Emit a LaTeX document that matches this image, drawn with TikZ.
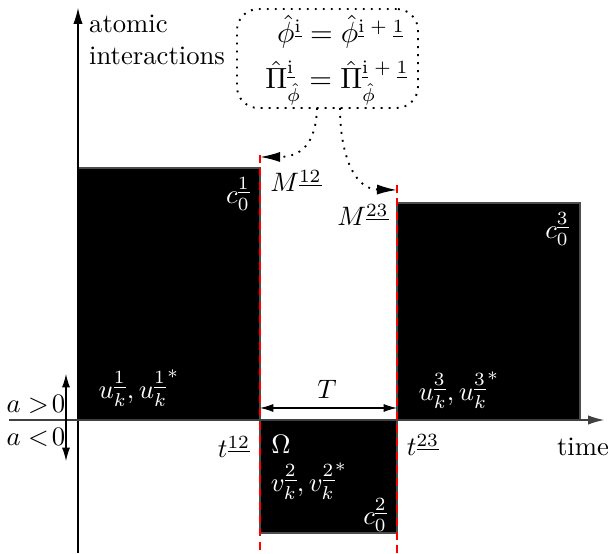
\documentclass[tikz,border=0pt]{standalone}
\usetikzlibrary{arrows.meta}
\newcommand{\ul}[1]{\underline{#1}}
\begin{document}
\begin{tikzpicture}[x=0.375pt,y=-0.375pt,
  blk/.style={fill=black,draw=black!70},
  wtxt/.style={text=white,inner sep=1pt},
  btxt/.style={inner sep=1pt},
  eqtxt/.style={inner sep=1pt,anchor=base,font=\fontsize{10.5}{12.6}\selectfont},
  reddash/.style={red,thick,dash pattern=on 3pt off 2pt},
  mydots/.style={line width=0.7pt,dash pattern=on 0.7pt off 2.3pt},
  dotarrow/.style={mydots,-{Latex[length=7.5pt,width=3.8pt]}}]
\useasboundingbox (0,0) rectangle (608,554);
% blocks
\path[blk] (78,168) rectangle (260,420);
\path[blk] (397,203) rectangle (580,420);
\path[blk] (260,420) rectangle (397,533);
% axes
\coordinate (ybot) at (78,553);
\coordinate (ytop) at (78,8);
\coordinate (xl) at (9,420);
\coordinate (xr) at (604,420);
\draw[-{Latex[length=6pt,width=3.5pt]}] (ybot) -- (ytop);
\draw[black!75,-{Latex[length=6pt,width=3.5pt]}] (xl) -- (xr);
% red dashed lines
\coordinate (r1t) at (260,155);
\coordinate (r1b) at (260,554);
\coordinate (r2t) at (397,185);
\coordinate (r2b) at (397,554);
\draw[reddash] (r1t) -- (r1b);
\draw[reddash] (r2t) -- (r2b);
% top box
\node[draw,mydots,rounded corners=8pt,minimum width=181*0.375pt,minimum height=99*0.375pt,inner sep=0pt] (box) at (327.5,58.5) {};
\node[eqtxt] (eq1) at (341,43) {$\hat{\phi}^{\ul{\mathrm{i}}}=\hat{\phi}^{\ul{\mathrm{i}}\;+\;\ul{1}}$};
\node[eqtxt] (eq2) at (337,89) {$\hat{\Pi}^{\ul{\mathrm{i}}}_{\hat{\phi}}=\hat{\Pi}^{\ul{\mathrm{i}}\;+\;\ul{1}}_{\hat{\phi}}$};
\coordinate (s1) at (317,108);
\coordinate (s2) at (340,108);
\coordinate (a1) at (260,157);
\coordinate (a2) at (397,190);
\draw[dotarrow] (s1) .. controls (316,145) and (300,157) .. (a1);
\draw[dotarrow] (s2) .. controls (340,150) and (352,189) .. (a2);
% labels
\node[btxt,align=left,anchor=north west] (ai) at (86,12) {atomic\\interactions};
\node[wtxt] (c1) at (238,194) {$c_0^{\ul{1}}$};
\node[btxt] (m12) at (296,181) {$M^{\ul{12}}$};
\node[btxt] (m23) at (363,215) {$M^{\ul{23}}$};
\node[wtxt] (c3) at (557,229) {$c_0^{\ul{3}}$};
\node[wtxt] (u1) at (139,388) {$u_k^{\ul{1}},{u_k^{\ul{1}}}^*$};
\node[wtxt] (u3) at (459,390) {$u_k^{\ul{3}},{u_k^{\ul{3}}}^*$};
\node[btxt] (T) at (327,389) {$T$};
\coordinate (T1) at (260,408);
\coordinate (T2) at (397,408);
\draw[{Latex[length=5pt,width=3pt]}-{Latex[length=5pt,width=3pt]}] (T1) -- (T2);
\node[btxt] (apos) at (36,404) {$a>\!0$};
\node[btxt] (aneg) at (36,437) {$a<\!0$};
\coordinate (av1) at (66,374);
\coordinate (av2) at (66,461);
\draw[{Latex[length=5pt,width=3pt]}-{Latex[length=5pt,width=3pt]}] (av1) -- (av2);
\node[btxt] (t12) at (234,447) {$t^{\ul{12}}$};
\node[btxt] (t23) at (423,445) {$t^{\ul{23}}$};
\node[wtxt] (om) at (281,444) {$\Omega$};
\node[wtxt] (v2) at (309,481) {$v_k^{\ul{2}},{v_k^{\ul{2}}}^*$};
\node[wtxt] (c2) at (375,515) {$c_0^{\ul{2}}$};
\node[btxt] (time) at (583,447) {time};
\end{tikzpicture}
\end{document}
